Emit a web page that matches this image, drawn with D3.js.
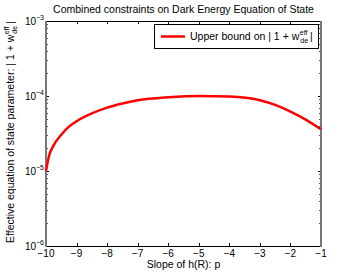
<!DOCTYPE html>
<html>
<head>
<meta charset="utf-8">
<script src="https://cdn.jsdelivr.net/npm/d3@7"></script>
<style>
  body { margin: 0; background: #fff; }
  svg { font-family: "Liberation Sans", Arial, sans-serif; }
</style>
</head>
<body>
<div id="chart"></div>
<script>
// slope p and the upper bound on |1 + w_de^eff|
let slopes = [-10, -9.9, -9.75, -9.5, -9.25, -9, -8.5, -8, -7.5, -7, -6, -5, -4, -3, -2.5, -2, -1.5, -1];
let bounds = [1.0e-5, 1.6e-5, 2.2e-5, 3.05e-5, 3.9e-5, 4.6e-5, 5.85e-5, 7.0e-5, 7.95e-5, 8.75e-5, 9.6e-5, 1.0e-4, 9.85e-5, 8.8e-5, 7.6e-5, 6.2e-5, 4.85e-5, 3.6e-5];
let xTicks = [-10, -9, -8, -7, -6, -5, -4, -3, -2, -1];
let yTicks = [1e-6, 1e-5, 1e-4, 1e-3];
let yTickExp = ["−6", "−5", "−4", "−3"];

let data = slopes.map((p, i) => ({p: p, w: bounds[i]}));

let W = 354, H = 277;
let margin = {top: 21, right: 33, bottom: 31, left: 46},
    width = W - margin.left - margin.right,
    height = H - margin.top - margin.bottom;

let FS = 10.5;   // labels
let TS = 10;     // tick labels

let svg = d3.select("#chart")
    .append("svg")
        .attr("width", W)
        .attr("height", H);

let g = svg.append("g")
    .attr("transform", `translate(${margin.left},${margin.top})`);

let x = d3.scaleLinear().domain([-10, -1]).range([0, width]);
let y = d3.scaleLog().domain([1e-6, 1e-3]).range([height, 0]);

// "<main> w^eff_de |" with stacked super/subscript
function wLabel(parent, tx, ty, main) {
    let t = parent.append("text")
        .attr("x", tx).attr("y", ty)
        .attr("font-size", FS)
        .text(main);
    let end = tx + t.node().getComputedTextLength() + 0.5;
    let sup = parent.append("text")
        .attr("x", end).attr("y", ty - 5)
        .attr("font-size", 7)
        .text("eff");
    parent.append("text")
        .attr("x", end + 0.5).attr("y", ty + 3)
        .attr("font-size", 7)
        .text("de");
    let end2 = end + sup.node().getComputedTextLength();
    parent.append("text")
        .attr("x", end2 + 2.5).attr("y", ty)
        .attr("font-size", FS)
        .text("|");
}

// minor log ticks
let minor = [];
for (let e = -6; e < -3; e++) {
    for (let m = 2; m <= 9; m++) minor.push(m * Math.pow(10, e));
}

// ticks, inward on all four sides
let tk = g.append("g").attr("stroke", "#000").attr("stroke-width", 1);
xTicks.forEach(v => {
    let px = Math.round(x(v)) + 0.5;
    tk.append("line").attr("x1", px).attr("x2", px).attr("y1", height).attr("y2", height - 3);
    tk.append("line").attr("x1", px).attr("x2", px).attr("y1", 0).attr("y2", 3);
});
yTicks.forEach(v => {
    let py = Math.round(y(v)) + 0.5;
    tk.append("line").attr("x1", 0).attr("x2", 3).attr("y1", py).attr("y2", py);
    tk.append("line").attr("x1", width).attr("x2", width - 3).attr("y1", py).attr("y2", py);
});
minor.forEach(v => {
    let py = Math.round(y(v)) + 0.5;
    tk.append("line").attr("x1", 0).attr("x2", 2).attr("y1", py).attr("y2", py).attr("stroke", "#555");
    tk.append("line").attr("x1", width).attr("x2", width - 2).attr("y1", py).attr("y2", py).attr("stroke", "#555");
});

// box
g.append("line").attr("x1", 0).attr("x2", width).attr("y1", 0.5).attr("y2", 0.5).attr("stroke", "#000");
g.append("line").attr("x1", 0).attr("x2", width).attr("y1", height + 0.5).attr("y2", height + 0.5).attr("stroke", "#000");
g.append("line").attr("x1", 0).attr("x2", 0).attr("y1", 0).attr("y2", height + 1).attr("stroke", "#777").attr("stroke-width", 2);
g.append("line").attr("x1", width).attr("x2", width).attr("y1", 0).attr("y2", height + 1).attr("stroke", "#777").attr("stroke-width", 2);

// x tick labels
g.append("g").selectAll("text")
    .data(xTicks)
    .enter()
    .append("text")
        .attr("x", d => x(d))
        .attr("y", height + 10.5)
        .attr("text-anchor", "middle")
        .attr("font-size", TS)
        .text(d => d < 0 ? "−" + Math.abs(d) : d);

// y tick labels 10^n
let yl = g.append("g").selectAll("text")
    .data(yTicks)
    .enter()
    .append("text")
        .attr("x", -2)
        .attr("y", d => y(d) + 3.5)
        .attr("text-anchor", "end")
        .attr("font-size", TS);
yl.append("tspan").text("10");
yl.append("tspan")
    .attr("font-size", 7)
    .attr("dy", -5)
    .text((d, i) => yTickExp[i]);

// curve
let line = d3.line()
    .x(d => x(d.p))
    .y(d => y(d.w))
    .curve(d3.curveMonotoneX);

g.append("path")
    .datum(data)
    .attr("fill", "none")
    .attr("stroke", "#ff0000")
    .attr("stroke-width", 2.5)
    .attr("d", line);

// title
svg.append("text")
    .attr("x", margin.left + width / 2)
    .attr("y", 13)
    .attr("text-anchor", "middle")
    .attr("font-size", FS)
    .text("Combined constraints on Dark Energy Equation of State");

// x label
svg.append("text")
    .attr("x", margin.left + width / 2)
    .attr("y", 268)
    .attr("text-anchor", "middle")
    .attr("font-size", FS)
    .text("Slope of h(R): p");

// y label (runs off the top like the original)
let ylg = svg.append("g").attr("transform", "translate(14,243) rotate(-90)");
wLabel(ylg, 0, 0, "Effective equation of state parameter: | 1 + w");

// legend
let lg = g.append("g").attr("transform", "translate(108,3)");
lg.append("rect")
    .attr("x", 0.5).attr("y", 0.5)
    .attr("width", 164).attr("height", 24)
    .attr("fill", "#fff")
    .attr("stroke", "#000");
lg.append("line")
    .attr("x1", 7).attr("x2", 31)
    .attr("y1", 12.5).attr("y2", 12.5)
    .attr("stroke", "#ff0000")
    .attr("stroke-width", 2.5);
wLabel(lg, 36, 16, "Upper bound on | 1 + w");
</script>
</body>
</html>
